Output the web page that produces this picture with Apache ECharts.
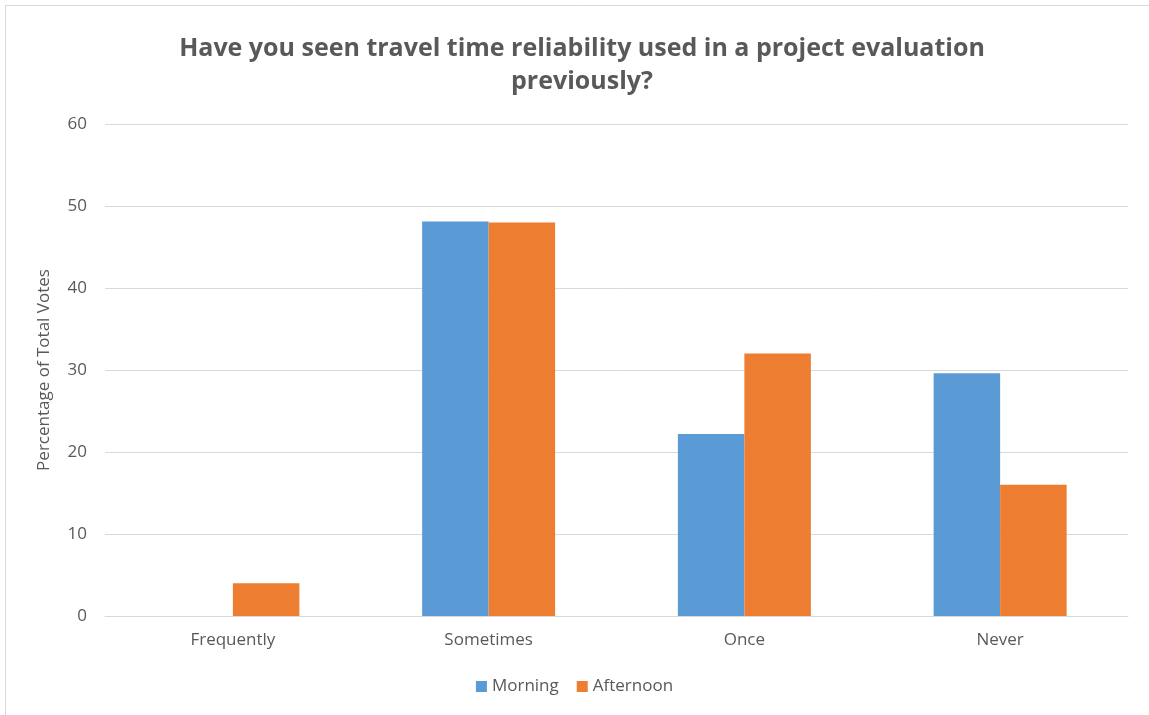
<!DOCTYPE html>
<html><head><meta charset="utf-8">
<script src="https://cdn.jsdelivr.net/npm/echarts@6/dist/echarts.min.js"></script>
<style>html,body{margin:0;padding:0;background:#fff}#c{width:1149px;height:715px}</style>
</head><body><div id="c"></div>
<script>
const categories = ['Frequently', 'Sometimes', 'Once', 'Never'];
const morning = [0, 48.1, 22.2, 29.6];
const afternoon = [4, 48, 32, 16];
const yTicks = [0, 10, 20, 30, 40, 50, 60];

const chart = echarts.init(document.getElementById('c'));
const font = '"Open Sans", "Noto Sans", sans-serif';
chart.setOption({
  animation: false,
  backgroundColor: '#fff',
  graphic: [{type: 'rect', shape: {x: 5.5, y: 5.5, width: 1160, height: 720}, style: {fill: 'none', stroke: '#d9d9d9', lineWidth: 1}}],
  title: {
    text: 'Have you seen travel time reliability used in a project evaluation\npreviously?',
    left: 577, top: 27, textAlign: 'center',
    textStyle: {fontFamily: font, fontWeight: 'bold', fontSize: 25, color: '#595959', lineHeight: 33}
  },
  legend: {
    data: ['Morning', 'Afternoon'], bottom: 15, left: 'center',
    itemWidth: 11, itemHeight: 11, itemGap: 18, icon: 'rect',
    textStyle: {fontFamily: font, fontSize: 17, color: '#595959'}
  },
  grid: {left: 105, right: 21, top: 124, bottom: 99},
  xAxis: {
    type: 'category', data: categories,
    axisLine: {lineStyle: {color: '#d9d9d9'}}, axisTick: {show: false},
    axisLabel: {fontFamily: font, fontSize: 17, color: '#595959', margin: 16}
  },
  yAxis: {
    type: 'value', min: yTicks[0], max: yTicks[yTicks.length - 1], interval: 10,
    name: 'Percentage of Total Votes', nameLocation: 'middle', nameGap: 52,
    nameTextStyle: {fontFamily: font, fontSize: 17, color: '#595959'},
    axisLine: {show: false}, axisTick: {show: false},
    splitLine: {lineStyle: {color: '#d9d9d9'}},
    axisLabel: {fontFamily: font, fontSize: 17, color: '#595959', margin: 18}
  },
  series: [
    {name: 'Morning', type: 'bar', data: morning, itemStyle: {color: '#5B9BD5'}, barGap: '0%', barCategoryGap: '48%'},
    {name: 'Afternoon', type: 'bar', data: afternoon, itemStyle: {color: '#ED7D31'}, barGap: '0%', barCategoryGap: '48%'}
  ]
});
</script></body></html>
